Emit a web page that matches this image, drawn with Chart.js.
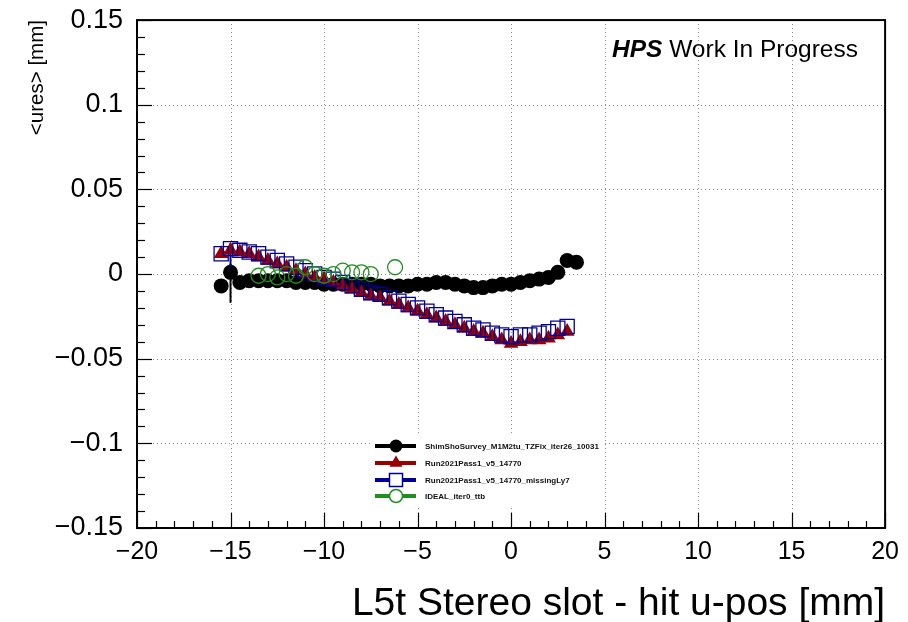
<!DOCTYPE html>
<html>
<head>
<meta charset="utf-8">
<script src="https://cdn.jsdelivr.net/npm/chart.js@4.4.0/dist/chart.umd.min.js"></script>
<style>
  html, body { margin: 0; padding: 0; background: #fff; }
  #wrap { width: 908px; height: 622px; }
</style>
</head>
<body>
<div id="wrap"><canvas id="chart" width="908" height="622"></canvas></div>
<script>
// hit u-pos bins (mm) and mean residuals (mm)
const xRun = [-15.5, -15, -14.5, -14, -13.5, -13, -12.5, -12, -11.5, -11, -10.5, -10, -9.5, -9, -8.5, -8, -7.5, -7, -6.5, -6,
  -5.5, -5, -4.5, -4, -3.5, -3, -2.5, -2, -1.5, -1, -0.5, 0, 0.5, 1, 1.5, 2, 2.5, 3];
const resRun = [0.012, 0.014, 0.013, 0.012, 0.010, 0.008, 0.006, 0.004, 0.002, 0.000, -0.002, -0.003, -0.005, -0.007, -0.009, -0.011, -0.013, -0.014, -0.016, -0.018,
  -0.020, -0.022, -0.024, -0.026, -0.028, -0.030, -0.032, -0.034, -0.035, -0.037, -0.039, -0.041, -0.040, -0.039, -0.039, -0.038, -0.036, -0.034];
const resMissing = [0.012, 0.015, 0.014, 0.013, 0.012, 0.010, 0.008, 0.006, 0.004, 0.002, 0.000, -0.002, -0.003, -0.005, -0.007, -0.009, -0.011, -0.012, -0.014, -0.016,
  -0.018, -0.020, -0.022, -0.024, -0.026, -0.028, -0.030, -0.032, -0.033, -0.035, -0.036, -0.037, -0.036, -0.036, -0.035, -0.034, -0.032, -0.031];

const xSurvey = [-15.5, -15, -14.5, -14, -13.5, -13, -12.5, -12, -11.5, -11, -10.5, -10, -9.5, -9, -8.5, -8, -7.5, -7, -6.5, -6,
  -5.5, -5, -4.5, -4, -3.5, -3, -2.5, -2, -1.5, -1, -0.5, 0, 0.5, 1, 1.5, 2, 2.5, 3, 3.5];
const resSurvey = [-0.007, 0.001, -0.005, -0.004, -0.004, -0.004, -0.004, -0.004, -0.005, -0.005, -0.005, -0.006, -0.006, -0.006, -0.006, -0.006, -0.006, -0.007, -0.007, -0.007,
  -0.007, -0.006, -0.006, -0.005, -0.005, -0.006, -0.007, -0.008, -0.008, -0.007, -0.006, -0.006, -0.005, -0.004, -0.003, -0.002, 0.001, 0.008, 0.007];

const xIdeal = [-13.5, -13, -12.5, -12, -11.5, -11, -10.5, -10, -9.5, -9, -8.5, -8, -7.5, -6.2];
const resIdeal = [-0.001, 0.000, -0.002, 0.000, -0.001, 0.004, 0.000, -0.001, 0.000, 0.002, 0.001, 0.001, 0.000, 0.004];

// the only visible error bars
const errSurvey = { x: -15, lo: -0.017, hi: 0.006 };
const errMissing = { x: -15, lo: 0.004, hi: 0.018 };

const seriesNames = ['ShimShoSurvey_M1M2tu_TZFix_iter26_10031', 'Run2021Pass1_v5_14770',
  'Run2021Pass1_v5_14770_missingLy7', 'IDEAL_iter0_ttb'];
const xTicks = [-20, -15, -10, -5, 0, 5, 10, 15, 20];
const yTicks = [-0.15, -0.1, -0.05, 0, 0.05, 0.1, 0.15];

const BLACK = '#000000', RED = '#990000', BLUE = '#000099', GREEN = '#1f8f1f';
const FONT = '"Liberation Sans", Arial, Helvetica, sans-serif';

function pts(xs, ys) {
  return xs.map((x, i) => ({ x: x, y: ys[i] }));
}
function fmt(v) {
  const r = Math.round(v * 100) / 100;
  if (r === 0) return '0';
  return r < 0 ? '\u2212' + String(-r) : String(r);
}

// dotted grid, frame and inward ticks like a ROOT canvas
const frame = {
  id: 'frame',
  beforeDatasetsDraw(chart) {
    const ctx = chart.ctx, a = chart.chartArea;
    const xs = chart.scales.x, ys = chart.scales.y;
    ctx.save();
    ctx.strokeStyle = '#8a8a8a';
    ctx.lineWidth = 1;
    ctx.setLineDash([1, 3]);
    xTicks.forEach(t => {
      const px = Math.round(xs.getPixelForValue(t)) + 0.5;
      ctx.beginPath(); ctx.moveTo(px, a.top); ctx.lineTo(px, a.bottom); ctx.stroke();
    });
    yTicks.forEach(t => {
      const py = Math.round(ys.getPixelForValue(t)) + 0.5;
      ctx.beginPath(); ctx.moveTo(a.left, py); ctx.lineTo(a.right, py); ctx.stroke();
    });
    ctx.restore();
  },
  afterDatasetsDraw(chart) {
    const ctx = chart.ctx, a = chart.chartArea;
    const xs = chart.scales.x, ys = chart.scales.y;
    ctx.save();
    ctx.strokeStyle = '#000';
    ctx.lineWidth = 1.2;
    for (let v = -20; v <= 20; v++) {
      const px = Math.round(xs.getPixelForValue(v)) + 0.5;
      const len = v % 5 === 0 ? 15 : 7;
      ctx.beginPath(); ctx.moveTo(px, a.bottom); ctx.lineTo(px, a.bottom - len); ctx.stroke();
    }
    for (let k = -15; k <= 15; k++) {
      const py = Math.round(ys.getPixelForValue(k / 100)) + 0.5;
      const len = k % 5 === 0 ? 15 : 8;
      ctx.beginPath(); ctx.moveTo(a.left, py); ctx.lineTo(a.left + len, py); ctx.stroke();
    }
    ctx.lineWidth = 2;
    ctx.strokeRect(a.left, a.top, a.right - a.left, a.bottom - a.top);
    ctx.restore();
  }
};

function marker(ctx, style, x, y, r, color) {
  ctx.save();
  ctx.strokeStyle = color;
  ctx.fillStyle = color;
  ctx.lineWidth = 1.5;
  ctx.beginPath();
  if (style === 'dot') {
    ctx.arc(x, y, r, 0, Math.PI * 2); ctx.fill();
  } else if (style === 'tri') {
    ctx.moveTo(x, y - r); ctx.lineTo(x + r * 0.87, y + r * 0.5); ctx.lineTo(x - r * 0.87, y + r * 0.5);
    ctx.closePath(); ctx.fill();
  } else if (style === 'box') {
    ctx.fillStyle = '#fff';
    ctx.rect(x - r, y - r, 2 * r, 2 * r); ctx.fill(); ctx.stroke();
  } else {
    ctx.fillStyle = '#fff';
    ctx.arc(x, y, r, 0, Math.PI * 2); ctx.fill(); ctx.stroke();
  }
  ctx.restore();
}

const legendBox = {
  id: 'legendBox',
  afterDraw(chart) {
    const ctx = chart.ctx;
    const styles = ['dot', 'tri', 'box', 'ring'];
    const colors = [BLACK, RED, BLUE, GREEN];
    const rows = [446, 463, 480, 496];
    ctx.save();
    ctx.fillStyle = '#fff';
    ctx.fillRect(372, 435, 232, 71);
    seriesNames.forEach((name, i) => {
      const y = rows[i];
      ctx.strokeStyle = colors[i];
      ctx.lineWidth = 4;
      ctx.beginPath(); ctx.moveTo(375, y); ctx.lineTo(416, y); ctx.stroke();
      marker(ctx, styles[i], 396, y, i === 1 ? 7.5 : 6.5, colors[i]);
      ctx.fillStyle = '#111';
      ctx.font = 'bold 8px ' + FONT;
      ctx.textBaseline = 'middle';
      ctx.textAlign = 'left';
      ctx.fillText(name, 425, y + 0.5);
    });

    // experiment label
    ctx.fillStyle = '#000';
    ctx.textBaseline = 'alphabetic';
    ctx.font = 'italic bold 24.5px ' + FONT;
    ctx.fillText('HPS', 612, 57);
    const w = ctx.measureText('HPS ').width;
    ctx.font = '24.5px ' + FONT;
    ctx.fillText('Work In Progress', 612 + w, 57);
    ctx.restore();
  }
};

const errorBars = [
  { type: 'line', data: [{ x: errSurvey.x, y: errSurvey.lo }, { x: errSurvey.x, y: errSurvey.hi }],
    borderColor: BLACK, borderWidth: 2, pointRadius: 0, order: 5 },
  { type: 'line', data: [{ x: errMissing.x, y: errMissing.lo }, { x: errMissing.x, y: errMissing.hi }],
    borderColor: BLUE, borderWidth: 2, pointRadius: 0, order: 3 }
];

new Chart(document.getElementById('chart'), {
  type: 'scatter',
  data: {
    datasets: [
      { label: seriesNames[0], data: pts(xSurvey, resSurvey), pointStyle: 'circle', pointRadius: 7.5,
        backgroundColor: BLACK, borderColor: BLACK, borderWidth: 0, order: 4 },
      { label: seriesNames[1], data: pts(xRun, resRun), pointStyle: 'triangle', pointRadius: 8.5,
        backgroundColor: RED, borderColor: RED, borderWidth: 0, order: 3 },
      { label: seriesNames[2], data: pts(xRun, resMissing), pointStyle: 'rect', pointRadius: 10,
        backgroundColor: 'rgba(0,0,0,0)', borderColor: BLUE, borderWidth: 1.3, order: 2 },
      { label: seriesNames[3], data: pts(xIdeal, resIdeal), pointStyle: 'circle', pointRadius: 7.5,
        backgroundColor: 'rgba(0,0,0,0)', borderColor: GREEN, borderWidth: 1.3, order: 1 }
    ].concat(errorBars)
  },
  options: {
    responsive: false,
    devicePixelRatio: 1,
    animation: false,
    layout: { padding: { left: 0, top: 2, right: 21, bottom: 0 } },
    plugins: { legend: { display: false }, tooltip: { enabled: false } },
    scales: {
      x: {
        type: 'linear', min: -20, max: 20,
        afterFit(scale) { scale.height = 94; },
        afterBuildTicks(scale) { scale.ticks = xTicks.map(v => ({ value: v })); },
        grid: { display: false, drawTicks: false },
        border: { display: false },
        ticks: { color: '#000', padding: 9, font: { family: FONT, size: 25 }, callback: v => fmt(v), maxRotation: 0 },
        title: { display: true, text: 'L5t Stereo slot - hit u-pos [mm]', align: 'end', color: '#000',
          font: { family: FONT, size: 39 }, padding: { top: 0, bottom: -6 } }
      },
      y: {
        type: 'linear', min: -0.15, max: 0.15,
        afterFit(scale) { scale.width = 137; },
        afterBuildTicks(scale) { scale.ticks = yTicks.map(v => ({ value: v })); },
        grid: { display: false, drawTicks: false },
        border: { display: false },
        ticks: { color: '#000', padding: 14, font: { family: FONT, size: 27, lineHeight: 0.45 }, callback: v => fmt(v) },
        title: { display: true, text: '<ures> [mm]', align: 'end', color: '#000',
          font: { family: FONT, size: 20.5 }, padding: { top: 25, bottom: 0 } }
      }
    }
  },
  plugins: [frame, legendBox]
});
</script>
</body>
</html>
